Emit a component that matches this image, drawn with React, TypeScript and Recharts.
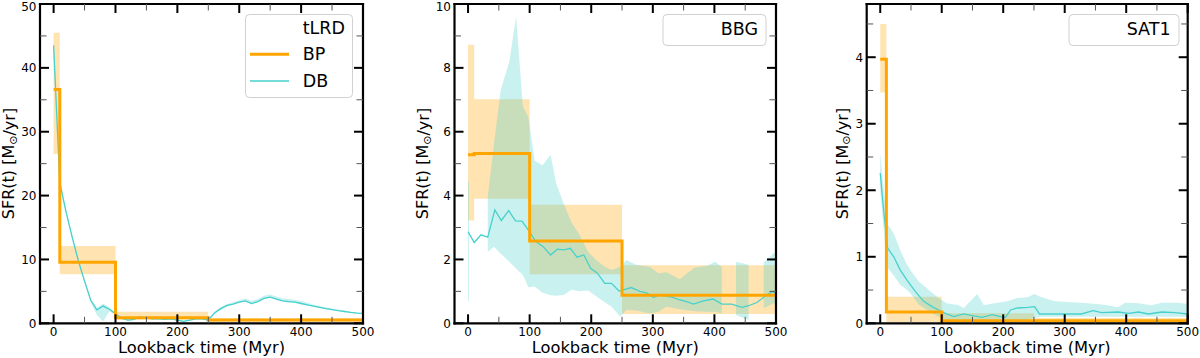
import React from 'react';
import { ComposedChart, Area, Line, XAxis, YAxis } from 'recharts';

const FONT = '"DejaVu Sans", "Liberation Sans", sans-serif';
const ORANGE = '#FFA500';
const TURQ = '#48D1CC';

const X_TICKS = [0, 50, 100, 150, 200, 250, 300, 350, 400, 450, 500];
const X_DOMAIN: [number, number] = [-22, 500];
const BP_EDGES = [0, 10, 100, 250, 500];

// ---------- Panel 1: tLRD ----------
const P1_BP = [36.6, 9.55, 0.85, 0.5, 0.5];
const P1_BP_LO = [26.5, 7.7, 0.6, 0.25, 0.25];
const P1_BP_HI = [45.5, 12.1, 1.8, 0.8, 0.8];
const P1_DB_X = [0, 10, 20, 30, 40, 50, 60, 70, 80, 90, 100, 110, 120, 130, 140, 150, 160, 170, 180, 190, 200, 210, 220, 230, 240, 250, 260, 270, 280, 290, 300, 310, 320, 330, 340, 350, 360, 370, 380, 390, 400, 410, 420, 430, 440, 450, 460, 470, 480, 490, 500];
const P1_DB = [43.5, 22, 17.5, 13.5, 9.8, 6.6, 3.6, 2.1, 2.7, 2.2, 1.5, 0.8, 0.5, 0.6, 1.0, 0.8, 0.7, 0.7, 0.6, 0.7, 0.5, 0.3, 0.5, 0.7, 0.7, 0.5, 1.6, 2.3, 2.8, 3.0, 3.3, 3.5, 3.1, 3.4, 3.9, 4.1, 3.8, 3.5, 3.4, 3.3, 3.1, 2.9, 2.7, 2.5, 2.3, 2.15, 2.0, 1.85, 1.7, 1.6, 1.55];
const P1_DB_LO = [42.8, 21.5, 17.2, 13.2, 9.5, 6.3, 3.3, 1.3, 0.3, 1.9, 1.3, 0.6, 0.4, 0.5, 0.9, 0.7, 0.6, 0.6, 0.5, 0.6, 0.4, 0.2, 0.4, 0.6, 0.6, 0.4, 1.5, 2.1, 2.6, 2.9, 3.2, 3.4, 3.0, 3.3, 3.8, 4.0, 3.7, 3.4, 3.3, 3.2, 3.0, 2.8, 2.6, 2.4, 2.2, 2.1, 1.95, 1.8, 1.65, 1.55, 1.5];
const P1_DB_HI = [44.2, 22.8, 17.9, 13.8, 10.1, 6.8, 3.8, 2.4, 3.1, 2.5, 1.7, 0.9, 0.6, 0.7, 1.1, 0.9, 0.8, 0.8, 0.7, 0.8, 0.6, 0.4, 0.6, 0.8, 0.8, 0.7, 1.8, 2.5, 3.0, 3.3, 3.6, 3.9, 3.5, 3.8, 4.3, 4.5, 4.2, 3.9, 3.8, 3.7, 3.5, 3.2, 2.9, 2.7, 2.5, 2.3, 2.1, 1.95, 1.8, 1.7, 1.65];

// ---------- Panel 2: BBG ----------
const P2_BP = [5.28, 5.32, 2.58, 0.88, 0.88];
const P2_BP_LO = [3.22, 3.9, 1.54, 0.29, 0.29];
const P2_BP_HI = [8.72, 7.02, 3.71, 1.82, 1.82];
const P2_DB_X = [0, 10, 21, 32, 43.5, 54, 66, 77, 87.5, 98, 110, 122, 134, 145, 155.5, 166, 177, 188, 199, 210, 222, 233, 245, 265, 279, 290, 301, 311, 321, 331, 344, 355, 366, 382, 398, 412, 428, 445, 455.5, 469, 483, 493.5, 500];
const P2_DB = [2.87, 2.53, 2.77, 2.7, 3.55, 3.22, 3.53, 3.21, 3.2, 2.92, 2.56, 2.4, 2.14, 2.32, 2.3, 2.35, 2.07, 2.14, 1.72, 1.57, 1.25, 1.25, 1.01, 1.12, 1.0, 0.95, 0.81, 0.89, 0.85, 0.82, 0.73, 0.68, 0.6, 0.7, 0.76, 0.6, 0.6, 0.5, 0.55, 0.65, 0.86, 0.99, 0.95];
const P2_BAND_X = [0, 1.5, 32, 42, 53, 67, 78, 89, 98, 108, 121, 134, 143, 155, 168, 181, 195, 208, 222, 233, 247, 257, 273, 295, 309, 322, 344, 352, 368, 388, 401, 412, 435, 455.5, 480, 496, 500];
const P2_BAND_LO = [0.68, 0.68, 2.24, 2.4, 2.18, 1.93, 1.72, 1.51, 1.13, 1.15, 0.96, 0.88, 0.86, 0.89, 1.05, 1.0, 1.03, 0.85, 0.66, 0.52, 0.21, 0.42, 0.4, 0.31, 0.36, 0.52, 0.44, 0.42, 0.38, 0.36, 0.36, 0.31, 0.26, 0.1, 0.47, 0.63, 0.6];
const P2_BAND_HI = [4.44, 4.44, 3.97, 5.6, 7.3, 8.2, 9.61, 6.79, 6.45, 5.1, 4.95, 5.28, 4.39, 3.76, 3.16, 2.77, 2.24, 1.98, 1.77, 1.67, 1.77, 1.98, 1.83, 1.77, 1.57, 1.6, 1.38, 1.51, 1.75, 1.8, 1.93, 1.77, 1.93, 1.83, 1.9, 2.19, 2.2];
const P2_BAND_SEG = [0, 0, 1, 1, 1, 1, 1, 1, 1, 1, 1, 1, 1, 1, 1, 1, 1, 1, 1, 1, 1, 1, 1, 1, 1, 1, 1, 1, 1, 1, 1, 1, 2, 2, 3, 3, 3];

// ---------- Panel 3: SAT1 ----------
const P3_BP = [3.97, 0.17, 0.04, 0.04, 0.04];
const P3_BP_LO = [3.47, 0.02, 0.02, 0.01, 0.01];
const P3_BP_HI = [4.5, 0.4, 0.15, 0.08, 0.08];
const P3_DB_X = [0, 5.5, 12, 22, 32.6, 43.5, 57, 70.7, 84.3, 95, 106, 119.6, 136, 152, 166, 182, 195.6, 203.7, 212, 223, 240, 251, 259, 277, 300, 327, 346, 360, 387, 404, 420, 436, 458, 479, 500];
const P3_DB = [2.26, 1.7, 1.13, 1.0, 0.8, 0.65, 0.48, 0.33, 0.25, 0.2, 0.15, 0.1, 0.14, 0.11, 0.09, 0.13, 0.1, 0.09, 0.2, 0.23, 0.24, 0.25, 0.14, 0.14, 0.14, 0.14, 0.19, 0.16, 0.17, 0.15, 0.17, 0.14, 0.17, 0.16, 0.14];
const P3_BAND_X = [0, 11, 22, 32.6, 43.5, 49, 62.6, 81.5, 95, 108, 114, 125, 136, 157.6, 168.5, 185, 206.5, 223, 239, 251, 260, 284, 327, 365, 387, 398, 420, 441, 458, 484.5, 500];
const P3_BAND_LO = [2.0, 0.85, 0.72, 0.58, 0.5, 0.45, 0.28, 0.17, 0.1, 0.05, 0.04, 0.03, 0.03, 0.03, 0.03, 0.03, 0.03, 0.04, 0.05, 0.08, 0.1, 0.1, 0.1, 0.1, 0.1, 0.1, 0.1, 0.1, 0.1, 0.1, 0.1];
const P3_BAND_HI = [2.56, 1.5, 1.35, 1.1, 0.88, 0.8, 0.63, 0.48, 0.38, 0.3, 0.29, 0.28, 0.23, 0.44, 0.27, 0.3, 0.33, 0.38, 0.39, 0.44, 0.4, 0.33, 0.31, 0.28, 0.24, 0.31, 0.3, 0.27, 0.31, 0.31, 0.29];

const P1_Y_TICKS = [0, 5, 10, 15, 20, 25, 30, 35, 40, 45, 50];
const P2_Y_TICKS = [0, 1, 2, 3, 4, 5, 6, 7, 8, 9, 10];
const P3_Y_TICKS = [0, 0.5, 1, 1.5, 2, 2.5, 3, 3.5, 4, 4.5];

type Val = number | [number, number];
type Spec = { key: string; x: number[]; y: Val[] };

function zip(lo: number[], hi: number[]): [number, number][] {
  return lo.map((l, i) => [l, hi[i]]);
}

function merge(specs: Spec[]) {
  const map = new Map<number, any>();
  specs.forEach((s) =>
    s.x.forEach((xv, i) => {
      const row = map.get(xv) ?? { x: xv };
      row[s.key] = s.y[i];
      map.set(xv, row);
    })
  );
  return Array.from(map.values()).sort((a, b) => a.x - b.x);
}

function segmentSpecs(prefix: string, xs: number[], lo: number[], hi: number[], seg: number[]): Spec[] {
  const ids = Array.from(new Set(seg));
  return ids.map((id) => {
    const idx = seg.map((s, i) => (s === id ? i : -1)).filter((i) => i >= 0);
    return {
      key: `${prefix}${id}`,
      x: idx.map((i) => xs[i]),
      y: idx.map((i) => [lo[i], hi[i]] as [number, number]),
    };
  });
}

const isMajor = (v: number, step: number) => Math.abs(v / step - Math.round(v / step)) < 1e-6;

const renderXTick = (side: 'bottom' | 'top') => (props: any) => {
  const { x, y, payload } = props;
  const v = payload.value as number;
  const major = isMajor(v, 100);
  const len = major ? 9 : 6.5;
  const dir = side === 'bottom' ? -1 : 1;
  return (
    <g>
      <line x1={x} x2={x} y1={y} y2={y + dir * len} stroke={major ? '#000' : '#555'} strokeWidth={major ? 2 : 1} />
      {side === 'bottom' && major ? (
        <text x={x} y={y + 13} textAnchor="middle" fontSize={12} fontFamily={FONT} fill="#000">
          {v}
        </text>
      ) : null}
    </g>
  );
};

const renderYTick = (side: 'left' | 'right', step: number) => (props: any) => {
  const { x, y, payload } = props;
  const v = payload.value as number;
  const major = isMajor(v, step);
  const len = major ? 9 : 6.5;
  const dir = side === 'left' ? 1 : -1;
  return (
    <g>
      <line x1={x} x2={x + dir * len} y1={y} y2={y} stroke={major ? '#000' : '#555'} strokeWidth={major ? 2 : 1} />
      {side === 'left' && major ? (
        <text x={x - 3.5} y={Math.max(y, 6.6)} dy="0.36em" textAnchor="end" fontSize={12} fontFamily={FONT} fill="#000">
          {v}
        </text>
      ) : null}
    </g>
  );
};

const XTitle = (props: any) => (
  <text x={props.cx} y={352.5} textAnchor="middle" fontSize={16.3} fontFamily={FONT} fill="#000">
    Lookback time (Myr)
  </text>
);

const YTitle = (props: any) => (
  <text
    x={props.cx}
    y={163.5}
    transform={`rotate(-90 ${props.cx} 163.5)`}
    textAnchor="middle"
    dominantBaseline="central"
    fontSize={16}
    fontFamily={FONT}
    fill="#000"
  >
    SFR(t) [M
    <tspan fontSize={11} dy={4}>⊙</tspan>
    <tspan dy={-4}>/yr]</tspan>
  </text>
);

const AXIS_LINE = { stroke: '#000', strokeWidth: 2.2, strokeLinecap: 'square' as const };

type PanelCfg = {
  left: number;
  plot: { left: number; right: number };
  yMax: number;
  yTicks: number[];
  yStep: number;
  data: any[];
  bandKeys: string[];
  yTitleX: number;
};

const PLOT_TOP = 4;
const PLOT_BOTTOM = 323.3;

const PANELS: PanelCfg[] = [
  {
    left: 0,
    plot: { left: 40, right: 363 },
    yMax: 50,
    yTicks: P1_Y_TICKS,
    yStep: 10,
    yTitleX: 8.5,
    bandKeys: ['dbBand0'],
    data: merge([
      { key: 'bp', x: BP_EDGES, y: P1_BP },
      { key: 'bpBand', x: BP_EDGES, y: zip(P1_BP_LO, P1_BP_HI) },
      { key: 'db', x: P1_DB_X, y: P1_DB },
      { key: 'dbBand0', x: P1_DB_X, y: zip(P1_DB_LO, P1_DB_HI) },
    ]),
  },
  {
    left: 400,
    plot: { left: 54.5, right: 376 },
    yMax: 10,
    yTicks: P2_Y_TICKS,
    yStep: 2,
    yTitleX: 22.5,
    bandKeys: ['dbBand0', 'dbBand1', 'dbBand2', 'dbBand3'],
    data: merge([
      { key: 'bp', x: BP_EDGES, y: P2_BP },
      { key: 'bpBand', x: BP_EDGES, y: zip(P2_BP_LO, P2_BP_HI) },
      { key: 'db', x: P2_DB_X, y: P2_DB },
      ...segmentSpecs('dbBand', P2_BAND_X, P2_BAND_LO, P2_BAND_HI, P2_BAND_SEG),
    ]),
  },
  {
    left: 800,
    plot: { left: 66.7, right: 387.7 },
    yMax: 4.8,
    yTicks: P3_Y_TICKS,
    yStep: 1,
    yTitleX: 42,
    bandKeys: ['dbBand0'],
    data: merge([
      { key: 'bp', x: BP_EDGES, y: P3_BP },
      { key: 'bpBand', x: BP_EDGES, y: zip(P3_BP_LO, P3_BP_HI) },
      { key: 'db', x: P3_DB_X, y: P3_DB },
      { key: 'dbBand0', x: P3_BAND_X, y: zip(P3_BAND_LO, P3_BAND_HI) },
    ]),
  },
];

const AX = 1; // axis band thickness (Recharts skips axes of size 0)

function Panel({ cfg }: { cfg: PanelCfg }) {
  const margin = {
    top: PLOT_TOP - AX,
    bottom: 358 - PLOT_BOTTOM - AX,
    left: cfg.plot.left - AX,
    right: 400 - cfg.plot.right - AX,
  };
  const titleCx = (cfg.plot.left + cfg.plot.right) / 2;
  const common = {
    type: 'number' as const,
    allowDataOverflow: true,
    interval: 0 as const,
    tickSize: 0,
    tickMargin: 0,
    tickLine: false,
    axisLine: AXIS_LINE,
  };
  return (
    <ComposedChart width={400} height={358} data={cfg.data} margin={margin}>
      <XAxis
        xAxisId="b"
        dataKey="x"
        domain={X_DOMAIN}
        ticks={X_TICKS}
        height={AX}
        {...common}
        tick={renderXTick('bottom')}
        label={<XTitle cx={titleCx} />}
      />
      <XAxis
        xAxisId="t"
        orientation="top"
        dataKey="x"
        domain={X_DOMAIN}
        ticks={X_TICKS}
        height={AX}
        {...common}
        tick={renderXTick('top')}
      />
      <YAxis
        yAxisId="l"
        domain={[0, cfg.yMax]}
        ticks={cfg.yTicks}
        width={AX}
        {...common}
        tick={renderYTick('left', cfg.yStep)}
        label={<YTitle cx={cfg.yTitleX} />}
      />
      <YAxis
        yAxisId="r"
        orientation="right"
        domain={[0, cfg.yMax]}
        ticks={cfg.yTicks}
        width={AX}
        {...common}
        tick={renderYTick('right', cfg.yStep)}
      />
      <Area
        xAxisId="b"
        yAxisId="l"
        dataKey="bpBand"
        type="stepAfter"
        stroke="none"
        fill={ORANGE}
        fillOpacity={0.3}
        connectNulls
        dot={false}
        activeDot={false}
        isAnimationActive={false}
      />
      {cfg.bandKeys.map((k) => (
        <Area
          key={k}
          xAxisId="b"
          yAxisId="l"
          dataKey={k}
          type="linear"
          stroke="none"
          fill={TURQ}
          fillOpacity={0.3}
          connectNulls
          dot={false}
          activeDot={false}
          isAnimationActive={false}
        />
      ))}
      <Line
        xAxisId="b"
        yAxisId="l"
        dataKey="db"
        type="linear"
        stroke={TURQ}
        strokeWidth={1.3}
        dot={false}
        activeDot={false}
        connectNulls
        isAnimationActive={false}
      />
      <Line
        xAxisId="b"
        yAxisId="l"
        dataKey="bp"
        type="stepAfter"
        stroke={ORANGE}
        strokeWidth={3}
        dot={false}
        activeDot={false}
        connectNulls
        isAnimationActive={false}
      />
    </ComposedChart>
  );
}

function Legends() {
  const box = { fill: '#fff', fillOpacity: 0.8, stroke: '#d0d0d0', strokeWidth: 1 };
  const txt = { fontSize: 17.5, fontFamily: FONT, fill: '#000', dominantBaseline: 'central' as const };
  return (
    <svg width={1200} height={358} style={{ position: 'absolute', left: 0, top: 0, pointerEvents: 'none' }}>
      <rect x={245.5} y={14.5} width={107} height={83} rx={4} {...box} />
      <text x={302.7} y={28} {...txt}>tLRD</text>
      <line x1={250} x2={289} y1={54.3} y2={54.3} stroke={ORANGE} strokeWidth={3} />
      <text x={302.7} y={54.3} {...txt}>BP</text>
      <line x1={250} x2={289} y1={81} y2={81} stroke={TURQ} strokeWidth={1.3} />
      <text x={302.7} y={81} {...txt}>DB</text>

      <rect x={663} y={14.5} width={103} height={31} rx={4} {...box} />
      <text x={720.7} y={29} {...txt}>BBG</text>

      <rect x={1069} y={14.5} width={110} height={31} rx={4} {...box} />
      <text x={1126.7} y={29} {...txt}>SAT1</text>
    </svg>
  );
}

export default function App() {
  return (
    <div style={{ position: 'absolute', left: 0, top: 0, width: 1200, height: 358, background: '#fff', fontFamily: FONT }}>
      {PANELS.map((cfg, i) => (
        <div key={i} style={{ position: 'absolute', left: cfg.left, top: 0, width: 400, height: 358 }}>
          <Panel cfg={cfg} />
        </div>
      ))}
      <Legends />
    </div>
  );
}
